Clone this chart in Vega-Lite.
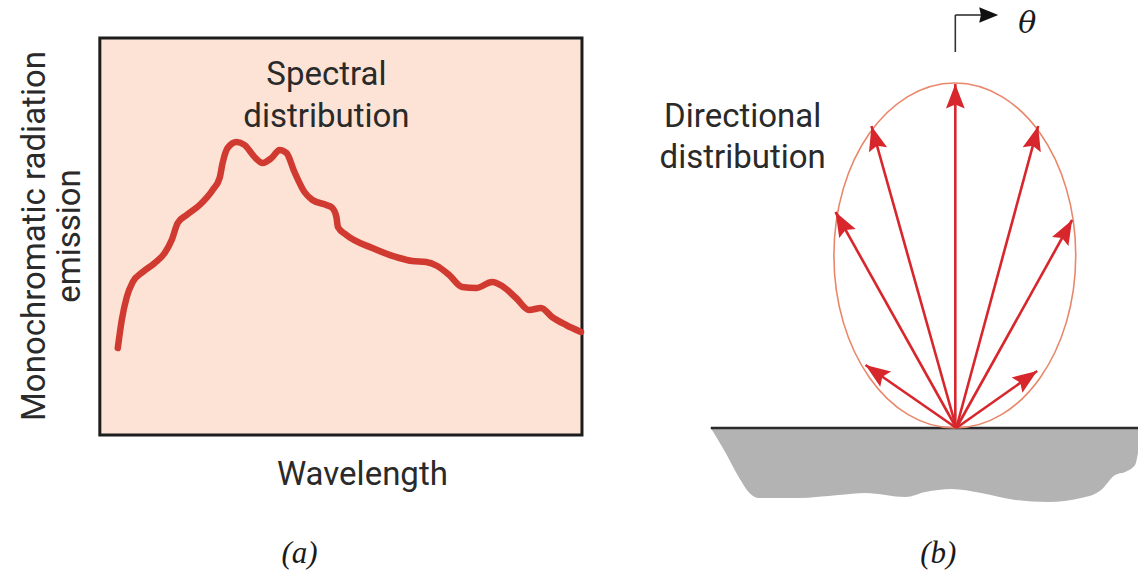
{
  "$schema": "https://vega.github.io/schema/vega-lite/v6.json",
  "width": 1140,
  "height": 571,
  "autosize": {"type": "fit", "contains": "padding"},
  "padding": 0,
  "background": "white",
  "config": {"view": {"stroke": null}},
  "datasets": {
    "box": [{"x": 100, "x2": 583, "y": 38, "y2": 435}],
    "curve": [
      {"x": 118, "y": 348}, {"x": 122, "y": 320}, {"x": 127, "y": 297}, {"x": 133, "y": 282},
      {"x": 143, "y": 272}, {"x": 155, "y": 263}, {"x": 165, "y": 253}, {"x": 172, "y": 240},
      {"x": 178, "y": 223}, {"x": 187, "y": 215}, {"x": 200, "y": 205}, {"x": 213, "y": 190},
      {"x": 220, "y": 178}, {"x": 223, "y": 163}, {"x": 228, "y": 148}, {"x": 237, "y": 142},
      {"x": 245, "y": 145}, {"x": 255, "y": 157}, {"x": 263, "y": 163}, {"x": 272, "y": 158},
      {"x": 280, "y": 150}, {"x": 287, "y": 153}, {"x": 295, "y": 172}, {"x": 305, "y": 192},
      {"x": 313, "y": 200}, {"x": 327, "y": 205}, {"x": 333, "y": 208}, {"x": 337, "y": 217},
      {"x": 338.5, "y": 227}, {"x": 347, "y": 235}, {"x": 373, "y": 248}, {"x": 400, "y": 258},
      {"x": 413, "y": 261}, {"x": 427, "y": 262}, {"x": 438, "y": 266}, {"x": 450, "y": 275},
      {"x": 463, "y": 287}, {"x": 477, "y": 288}, {"x": 493, "y": 282}, {"x": 503, "y": 286},
      {"x": 517, "y": 298}, {"x": 530, "y": 310}, {"x": 542, "y": 308}, {"x": 553, "y": 317},
      {"x": 567, "y": 325}, {"x": 582, "y": 332}
    ],
    "ground": [
      {"x": 712, "top": 428, "bottom": 428}, {"x": 727, "top": 428, "bottom": 453},
      {"x": 740, "top": 428, "bottom": 477}, {"x": 753, "top": 428, "bottom": 495},
      {"x": 760, "top": 428, "bottom": 498}, {"x": 800, "top": 428, "bottom": 498},
      {"x": 840, "top": 428, "bottom": 495}, {"x": 867, "top": 428, "bottom": 493},
      {"x": 907, "top": 428, "bottom": 497}, {"x": 927, "top": 428, "bottom": 492},
      {"x": 953, "top": 428, "bottom": 489}, {"x": 983, "top": 428, "bottom": 493},
      {"x": 1017, "top": 428, "bottom": 500}, {"x": 1050, "top": 428, "bottom": 502},
      {"x": 1083, "top": 428, "bottom": 498}, {"x": 1103, "top": 428, "bottom": 490},
      {"x": 1117, "top": 428, "bottom": 475}, {"x": 1127, "top": 428, "bottom": 472},
      {"x": 1137, "top": 428, "bottom": 465}, {"x": 1140, "top": 428, "bottom": 453}
    ],
    "surface": [{"x": 712, "x2": 1140, "y": 428}],
    "ellipse": [{"x": 956.5, "y": 255.5}],
    "arrows": [
      {"theta": -55, "x": 867, "y": 365, "x0": 958, "y0": 428},
      {"theta": -29, "x": 837, "y": 212, "x0": 958, "y0": 428},
      {"theta": -15.5, "x": 873, "y": 126, "x0": 958, "y0": 428},
      {"theta": 0, "x": 957, "y": 84, "x0": 957, "y0": 428},
      {"theta": 15.2, "x": 1040, "y": 126, "x0": 958, "y0": 428},
      {"theta": 29, "x": 1074, "y": 220, "x0": 958, "y0": 428},
      {"theta": 55, "x": 1039, "y": 371, "x0": 958, "y0": 428}
    ],
    "bracket": [
      {"x": 957, "y": 52, "x2": 957, "y2": 15},
      {"x": 957, "y": 15, "x2": 985, "y2": 15}
    ],
    "bracketHead": [{"x": 1000, "y": 15, "theta": 90}],
    "labels": [
      {"text": "Spectral", "x": 327, "y": 85},
      {"text": "distribution", "x": 327, "y": 127},
      {"text": "Directional", "x": 744, "y": 127},
      {"text": "distribution", "x": 744, "y": 168},
      {"text": "Wavelength", "x": 363, "y": 485}
    ],
    "ylabels": [
      {"text": "Monochromatic radiation", "x": 45, "y": 236},
      {"text": "emission", "x": 80, "y": 236}
    ],
    "italic": [
      {"text": "(a)", "x": 300, "y": 563},
      {"text": "(b)", "x": 940, "y": 563}
    ],
    "theta": [
      {"text": "θ", "x": 1029, "y": 33}
    ]
  },
  "layer": [
    {
      "data": {"name": "box"},
      "mark": {"type": "rect", "fill": "#fce3d5", "stroke": "#1c1c1c", "strokeWidth": 3},
      "encoding": {
        "x": {"field": "x", "type": "quantitative", "scale": {"domain": [0, 1140], "nice": false, "zero": false}, "axis": null},
        "x2": {"field": "x2"},
        "y": {"field": "y", "type": "quantitative", "scale": {"domain": [0, 571], "nice": false, "zero": false, "reverse": true}, "axis": null},
        "y2": {"field": "y2"}
      }
    },
    {
      "data": {"name": "curve"},
      "mark": {"type": "line", "color": "#d13a30", "strokeWidth": 6.5, "interpolate": "monotone", "strokeCap": "round", "strokeJoin": "round"},
      "encoding": {
        "x": {"field": "x", "type": "quantitative", "scale": {"domain": [0, 1140], "nice": false, "zero": false}, "axis": null},
        "y": {"field": "y", "type": "quantitative", "scale": {"domain": [0, 571], "nice": false, "zero": false, "reverse": true}, "axis": null}
      }
    },
    {
      "data": {"name": "ground"},
      "mark": {"type": "area", "color": "#b3b3b3", "interpolate": "monotone", "orient": "vertical"},
      "encoding": {
        "x": {"field": "x", "type": "quantitative", "scale": {"domain": [0, 1140], "nice": false, "zero": false}, "axis": null},
        "y": {"field": "top", "type": "quantitative", "scale": {"domain": [0, 571], "nice": false, "zero": false, "reverse": true}, "axis": null},
        "y2": {"field": "bottom"}
      }
    },
    {
      "data": {"name": "surface"},
      "mark": {"type": "rule", "color": "#2a2a2a", "strokeWidth": 2.5},
      "encoding": {
        "x": {"field": "x", "type": "quantitative", "scale": {"domain": [0, 1140], "nice": false, "zero": false}, "axis": null},
        "x2": {"field": "x2"},
        "y": {"field": "y", "type": "quantitative", "scale": {"domain": [0, 571], "nice": false, "zero": false, "reverse": true}, "axis": null}
      }
    },
    {
      "data": {"name": "ellipse"},
      "mark": {"type": "point", "filled": false, "stroke": "#e9876a", "strokeWidth": 1.6, "opacity": 1,
        "shape": "M0,-1C0.387,-1,0.701,-0.552,0.701,0C0.701,0.552,0.387,1,0,1C-0.387,1,-0.701,0.552,-0.701,0C-0.701,-0.552,-0.387,-1,0,-1Z",
        "size": 119025},
      "encoding": {
        "x": {"field": "x", "type": "quantitative", "scale": {"domain": [0, 1140], "nice": false, "zero": false}, "axis": null},
        "y": {"field": "y", "type": "quantitative", "scale": {"domain": [0, 571], "nice": false, "zero": false, "reverse": true}, "axis": null}
      }
    },
    {
      "data": {"name": "arrows"},
      "mark": {"type": "rule", "color": "#d7262c", "strokeWidth": 2.6},
      "encoding": {
        "x": {"field": "x0", "type": "quantitative", "scale": {"domain": [0, 1140], "nice": false, "zero": false}, "axis": null},
        "y": {"field": "y0", "type": "quantitative", "scale": {"domain": [0, 571], "nice": false, "zero": false, "reverse": true}, "axis": null},
        "x2": {"field": "x"},
        "y2": {"field": "y"}
      }
    },
    {
      "data": {"name": "arrows"},
      "mark": {"type": "point", "filled": true, "color": "#d7262c", "opacity": 1,
        "shape": "M0,0L0.42,1.1L0,0.92L-0.42,1.1Z", "size": 2000},
      "encoding": {
        "x": {"field": "x", "type": "quantitative", "scale": {"domain": [0, 1140], "nice": false, "zero": false}, "axis": null},
        "y": {"field": "y", "type": "quantitative", "scale": {"domain": [0, 571], "nice": false, "zero": false, "reverse": true}, "axis": null},
        "angle": {"field": "theta", "type": "quantitative", "scale": null}
      }
    },
    {
      "data": {"name": "bracket"},
      "mark": {"type": "rule", "color": "#333333", "strokeWidth": 1.6},
      "encoding": {
        "x": {"field": "x", "type": "quantitative", "scale": {"domain": [0, 1140], "nice": false, "zero": false}, "axis": null},
        "y": {"field": "y", "type": "quantitative", "scale": {"domain": [0, 571], "nice": false, "zero": false, "reverse": true}, "axis": null},
        "x2": {"field": "x2"},
        "y2": {"field": "y2"}
      }
    },
    {
      "data": {"name": "bracketHead"},
      "mark": {"type": "point", "filled": true, "color": "#111111", "opacity": 1,
        "shape": "M0,0L0.45,1.1L0,1.0L-0.45,1.1Z", "size": 1200},
      "encoding": {
        "x": {"field": "x", "type": "quantitative", "scale": {"domain": [0, 1140], "nice": false, "zero": false}, "axis": null},
        "y": {"field": "y", "type": "quantitative", "scale": {"domain": [0, 571], "nice": false, "zero": false, "reverse": true}, "axis": null},
        "angle": {"field": "theta", "type": "quantitative", "scale": null}
      }
    },
    {
      "data": {"name": "labels"},
      "mark": {"type": "text", "font": "Roboto", "fontSize": 33, "color": "#2a2a2a", "align": "center", "baseline": "alphabetic"},
      "encoding": {
        "x": {"field": "x", "type": "quantitative", "scale": {"domain": [0, 1140], "nice": false, "zero": false}, "axis": null},
        "y": {"field": "y", "type": "quantitative", "scale": {"domain": [0, 571], "nice": false, "zero": false, "reverse": true}, "axis": null},
        "text": {"field": "text"}
      }
    },
    {
      "data": {"name": "ylabels"},
      "mark": {"type": "text", "font": "Roboto", "fontSize": 33, "color": "#2a2a2a", "align": "center", "baseline": "alphabetic", "angle": 270},
      "encoding": {
        "x": {"field": "x", "type": "quantitative", "scale": {"domain": [0, 1140], "nice": false, "zero": false}, "axis": null},
        "y": {"field": "y", "type": "quantitative", "scale": {"domain": [0, 571], "nice": false, "zero": false, "reverse": true}, "axis": null},
        "text": {"field": "text"}
      }
    },
    {
      "data": {"name": "italic"},
      "mark": {"type": "text", "font": "Liberation Serif", "fontStyle": "italic", "fontSize": 31, "color": "#1a1a1a", "align": "center", "baseline": "alphabetic"},
      "encoding": {
        "x": {"field": "x", "type": "quantitative", "scale": {"domain": [0, 1140], "nice": false, "zero": false}, "axis": null},
        "y": {"field": "y", "type": "quantitative", "scale": {"domain": [0, 571], "nice": false, "zero": false, "reverse": true}, "axis": null},
        "text": {"field": "text"}
      }
    },
    {
      "data": {"name": "theta"},
      "mark": {"type": "text", "font": "DejaVu Serif", "fontStyle": "italic", "fontSize": 30, "color": "#1a1a1a", "align": "center", "baseline": "alphabetic"},
      "encoding": {
        "x": {"field": "x", "type": "quantitative", "scale": {"domain": [0, 1140], "nice": false, "zero": false}, "axis": null},
        "y": {"field": "y", "type": "quantitative", "scale": {"domain": [0, 571], "nice": false, "zero": false, "reverse": true}, "axis": null},
        "text": {"field": "text"}
      }
    }
  ]
}
